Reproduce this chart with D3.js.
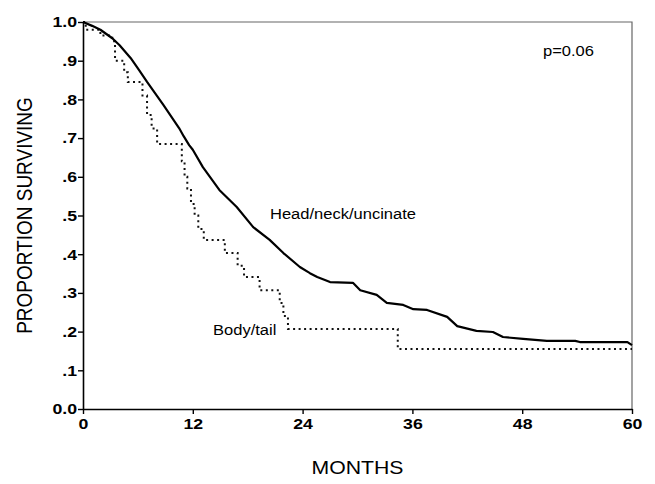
<!DOCTYPE html>
<html>
<head>
<meta charset="utf-8">
<script src="https://cdn.jsdelivr.net/npm/d3@7"></script>
<style>
  body { margin: 0; background: #fff; }
  svg { display: block; font-family: "Liberation Sans", Arial, sans-serif; }
</style>
</head>
<body>
<div id="plot"></div>
<script>
// survival estimates (months, proportion surviving)
var headMonths = [0, 1.0, 1.9, 3.2, 4.0, 5.2, 6.0, 7.0, 8.8, 10.5, 11.0, 11.6, 12.0, 13.1, 14.9, 16.8, 18.6, 20.4, 21.9, 23.7, 24.8, 25.6, 27.0, 29.5, 30.3, 32.1, 33.2, 35.0, 36.1, 37.6, 39.8, 40.9, 43.0, 44.8, 45.9, 48.1, 50.7, 53.8, 54.3, 59.5, 60];
var headSurv   = [1.0, 0.99, 0.98, 0.958, 0.94, 0.907, 0.88, 0.845, 0.785, 0.726, 0.705, 0.682, 0.67, 0.625, 0.566, 0.522, 0.47, 0.437, 0.403, 0.367, 0.351, 0.341, 0.328, 0.326, 0.307, 0.295, 0.274, 0.269, 0.258, 0.256, 0.238, 0.214, 0.202, 0.199, 0.186, 0.181, 0.176, 0.176, 0.173, 0.173, 0.165];

var bodyMonths = [0, 0.3, 1.9, 3.2, 3.5, 4.5, 4.9, 6.5, 7.0, 7.5, 8.1, 10.8, 11.1, 11.4, 11.8, 12.2, 12.6, 13.2, 15.5, 16.9, 17.6, 19.3, 21.5, 21.9, 22.4, 34.4, 60];
var bodySurv   = [1.0, 0.98, 0.965, 0.95, 0.90, 0.87, 0.845, 0.81, 0.76, 0.725, 0.685, 0.64, 0.60, 0.57, 0.53, 0.50, 0.465, 0.437, 0.403, 0.37, 0.341, 0.307, 0.274, 0.24, 0.207, 0.155, 0.155];

var xTicks = [0, 12, 24, 36, 48, 60];
var yTicks = [0, 0.1, 0.2, 0.3, 0.4, 0.5, 0.6, 0.7, 0.8, 0.9, 1.0];

// svg bounds
var margin = {top: 22, right: 23, bottom: 75, left: 83};
var width = 655 - margin.left - margin.right;
var height = 484 - margin.top - margin.bottom;
var stretch = 1.18; // the printed type is a bit wide

var svg = d3.select("#plot").append("svg")
    .attr("width", 655)
    .attr("height", 484);

var g = svg.append("g")
    .attr("transform", "translate(" + margin.left + "," + margin.top + ")");

var xScale = d3.scaleLinear().domain([0, 60]).range([0, width]);
var yScale = d3.scaleLinear().domain([0, 1]).range([height, 0]);

// frame (top and right)
g.append("path")
    .attr("d", "M0,0H" + width + "V" + height)
    .attr("fill", "none")
    .attr("stroke", "#666")
    .attr("stroke-width", 1.2);

// axes
var xAxis = g.append("g")
    .attr("transform", "translate(0," + height + ")")
    .call(d3.axisBottom(xScale).tickValues(xTicks).tickSize(5).tickPadding(4).tickSizeOuter(0));

var yAxis = g.append("g")
    .call(d3.axisLeft(yScale).tickValues(yTicks).tickSize(5).tickPadding(1).tickSizeOuter(0)
      .tickFormat(function(d) {
          if (d === 0) return "0.0";
          if (d === 1) return "1.0";
          return d3.format(".1f")(d).replace(/^0/, "");
      }));

[xAxis, yAxis].forEach(function(ax) {
    ax.select(".domain").attr("stroke", "#000").attr("stroke-width", 1.6);
    ax.selectAll(".tick line").attr("stroke", "#000").attr("stroke-width", 1.4);
    ax.selectAll(".tick text")
        .attr("fill", "#000")
        .style("font-size", "15px")
        .style("font-weight", "bold")
        .style("font-family", "'Liberation Sans', Arial, sans-serif");
});

// survival curves
var pairs = function(xs, ys) { return xs.map(function(d, i) { return [d, ys[i]]; }); };

var headLine = d3.line()
    .x(function(d) { return xScale(d[0]); })
    .y(function(d) { return yScale(d[1]); })
    .curve(d3.curveLinear);

var bodyLine = d3.line()
    .x(function(d) { return xScale(d[0]); })
    .y(function(d) { return yScale(d[1]); })
    .curve(d3.curveStepAfter);

g.append("path")
    .datum(pairs(bodyMonths, bodySurv))
    .attr("fill", "none")
    .attr("stroke", "#111")
    .attr("stroke-width", 2)
    .attr("stroke-dasharray", "2,3.5")
    .attr("d", bodyLine);

g.append("path")
    .datum(pairs(headMonths, headSurv))
    .attr("fill", "none")
    .attr("stroke", "#000")
    .attr("stroke-width", 2.2)
    .attr("stroke-linejoin", "round")
    .attr("d", headLine);

// labels
svg.append("text")
    .attr("class", "wide")
    .attr("x", 270).attr("y", 219)
    .style("font-size", "14px")
    .text("Head/neck/uncinate");

svg.append("text")
    .attr("class", "wide")
    .attr("x", 213).attr("y", 335)
    .style("font-size", "14px")
    .text("Body/tail");

svg.append("text")
    .attr("class", "wide")
    .attr("x", 543).attr("y", 56)
    .style("font-size", "14px")
    .text("p=0.06");

svg.append("text")
    .attr("class", "wide")
    .attr("x", margin.left + width / 2).attr("y", 474)
    .attr("text-anchor", "middle")
    .style("font-size", "18px")
    .text("MONTHS");

// rotated title: the scan widens its letter height instead of its length
svg.append("text")
    .attr("transform", "translate(32," + (margin.top + height / 2) + ") scale(" + stretch + ",1) rotate(-90)")
    .attr("text-anchor", "middle")
    .style("font-size", "19px")
    .text("PROPORTION SURVIVING");

// widen the horizontal type a little to match the scan
svg.selectAll("text.wide, .tick text").each(function() {
    var w = this.getComputedTextLength();
    d3.select(this)
        .attr("textLength", w * stretch)
        .attr("lengthAdjust", "spacingAndGlyphs");
});
</script>
</body>
</html>
